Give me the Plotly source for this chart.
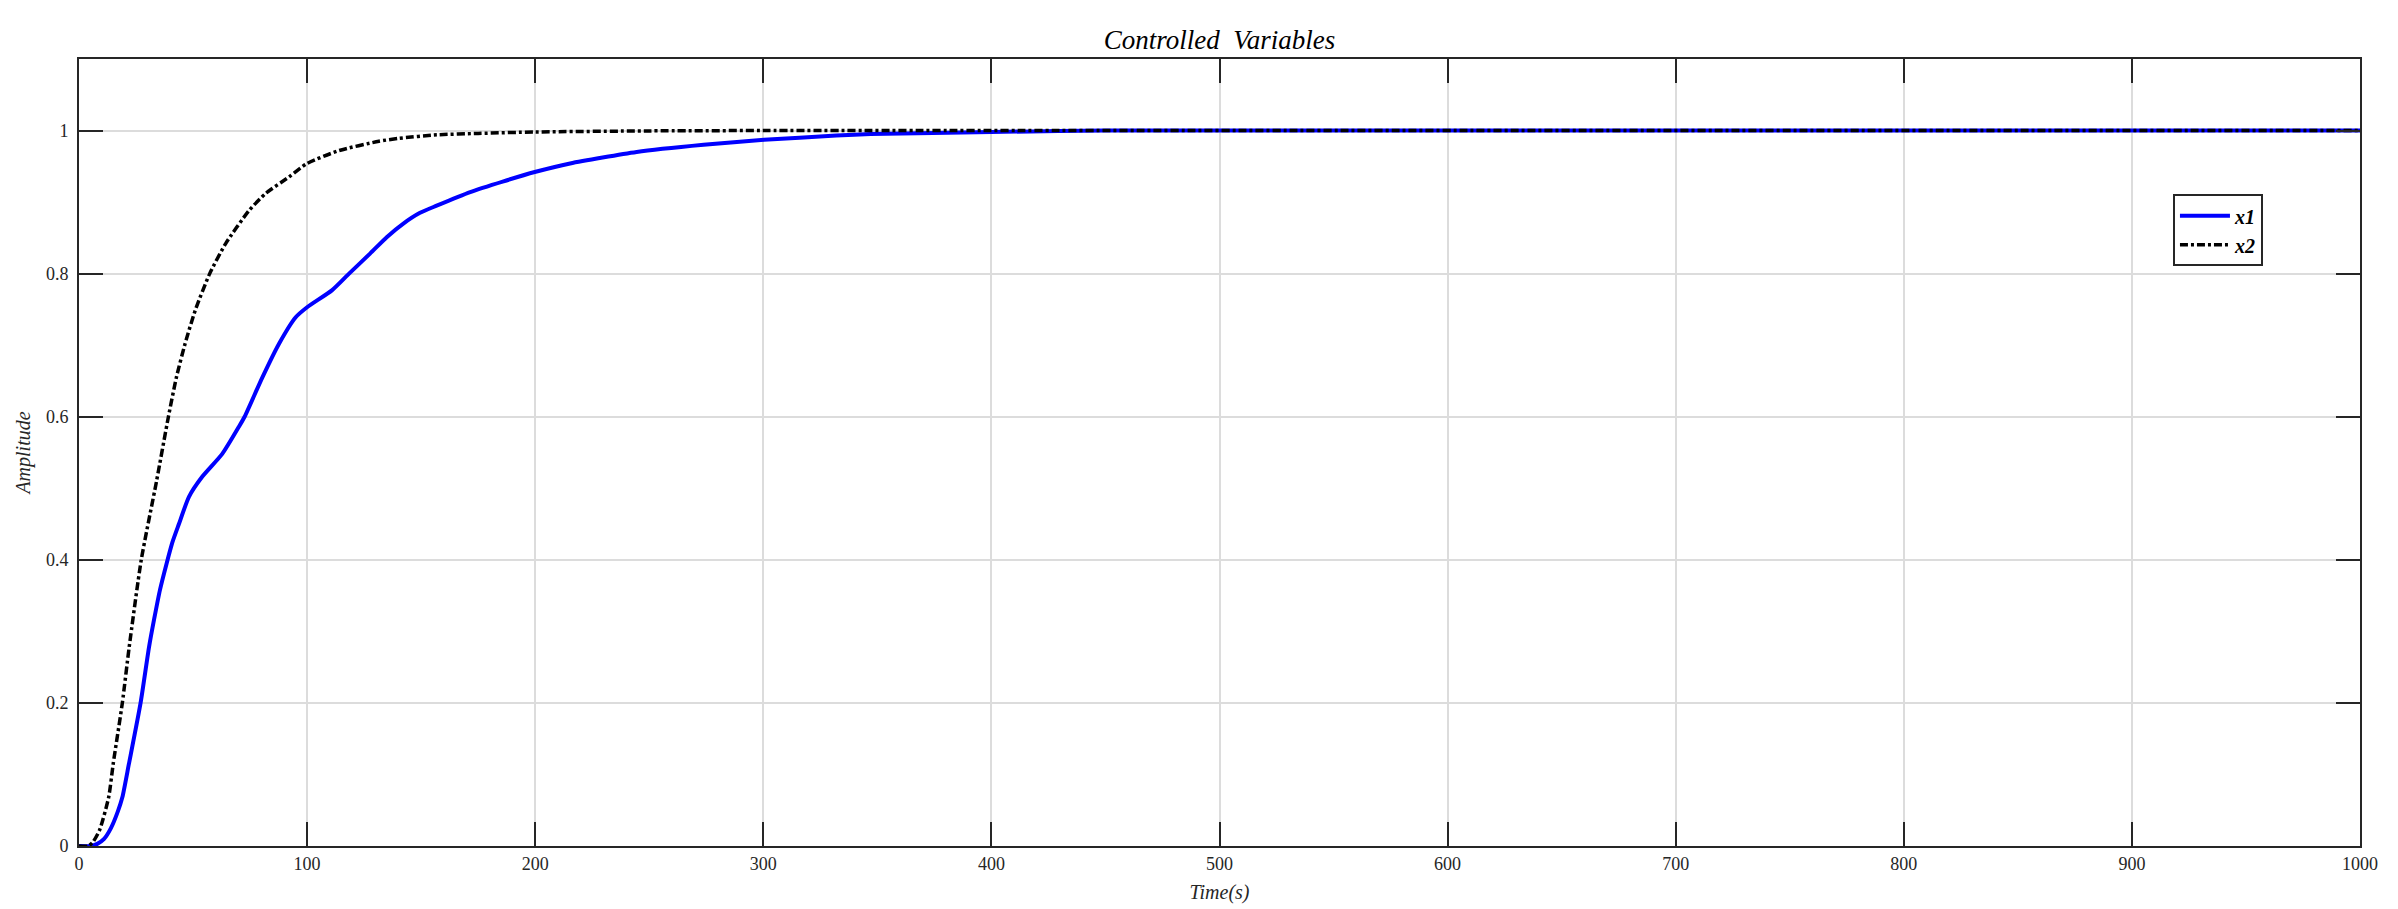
import plotly.graph_objects as go

# ---- data ----
t_x1 = [0, 5, 8, 11, 14, 17, 19, 21.9, 27, 30.7, 33, 35.5, 38.5, 41, 43.8, 48.2, 54, 62.8, 70.1,
        72.6, 80.4, 87.7, 95, 100, 111, 118.4, 127.6, 134.9, 142.2, 149.5, 156.8, 171.5, 186.1,
        199.8, 215.3, 244.5, 273.8, 300.3, 332, 347, 400, 450, 1000]
x1 = [0, 0, 0.003, 0.01, 0.025, 0.048, 0.068, 0.115, 0.2, 0.278, 0.318, 0.358, 0.396, 0.425,
      0.45, 0.488, 0.516, 0.548, 0.586, 0.6, 0.655, 0.702, 0.739, 0.753, 0.777, 0.8, 0.828,
      0.851, 0.870, 0.885, 0.895, 0.914, 0.929, 0.942, 0.954, 0.970, 0.980, 0.987, 0.993,
      0.995, 0.998, 1.0, 1.0]

t_x2 = [0, 4, 6, 9, 13, 15, 19, 22, 27.3, 34, 39.2, 42.7, 46.5, 51, 57.3, 64.3, 74.5, 81.8,
        92, 100, 114, 131.5, 140, 157, 175, 200, 250, 300, 1000]
x2 = [0, 0, 0.005, 0.022, 0.068, 0.115, 0.2, 0.278, 0.4, 0.51, 0.6, 0.655, 0.702, 0.749, 0.8,
      0.842, 0.888, 0.912, 0.935, 0.954, 0.972, 0.985, 0.989, 0.994, 0.996, 0.998, 0.9995,
      1.0, 1.0]

x_ticks = [0, 100, 200, 300, 400, 500, 600, 700, 800, 900, 1000]
y_ticks = [0, 0.2, 0.4, 0.6, 0.8, 1]

title_text = "Controlled\u00a0 Variables"
x_label = "Time(s)"
y_label = "Amplitude"

SERIF = "Liberation Serif, Times New Roman, serif"
AX = "#262626"

fig = go.Figure()
fig.add_trace(go.Scatter(x=t_x1, y=x1, mode="lines", name="x1",
                         line=dict(color="#0000ff", width=4, shape="spline", smoothing=0.6)))
fig.add_trace(go.Scatter(x=t_x2, y=x2, mode="lines", name="x2",
                         line=dict(color="#000000", width=3.5, shape="spline", smoothing=0.6,
                                   dash="8px,3px,3px,3px")))

axis_common = dict(
    showline=True, linecolor=AX, linewidth=2, mirror="ticks",
    ticks="inside", ticklen=24, tickwidth=2, tickcolor=AX,
    showgrid=True, gridcolor="#dcdcdc", gridwidth=2,
    zeroline=False,
    tickfont=dict(family=SERIF, size=18, color=AX),
)

# page body has an 8px default margin, so the figure is 8px smaller and margins shifted
W, H = 2390, 901
fig.update_layout(
    width=W, height=H,
    margin=dict(l=71, r=38, t=51, b=63, autoexpand=False),
    paper_bgcolor="white", plot_bgcolor="white",
    title=dict(text=title_text, x=0.5, xref="paper", xanchor="center",
               y=1 - 32 / H, yref="container", yanchor="middle",
               font=dict(family=SERIF, size=27, color="#000000", style="italic")),
    xaxis=dict(range=[0, 1000], tickvals=x_ticks, ticklabelstandoff=0,
               title=dict(text=x_label, standoff=12,
                          font=dict(family=SERIF, size=20, color=AX, style="italic")),
               **axis_common),
    yaxis=dict(range=[0, 1.1], tickvals=y_ticks, ticktext=[str(v) for v in y_ticks],
               ticklabelstandoff=5,
               title=dict(text=y_label, standoff=10,
                          font=dict(family=SERIF, size=20, color=AX, style="italic")),
               **axis_common),
    showlegend=True,
    legend=dict(x=0.918, y=0.828, xanchor="left", yanchor="top",
                bgcolor="white", bordercolor=AX, borderwidth=2,
                font=dict(family=SERIF, size=20, color="#000000", style="italic", weight="bold"),
                itemwidth=50, tracegroupgap=0),
)

fig.write_html("out.html")
